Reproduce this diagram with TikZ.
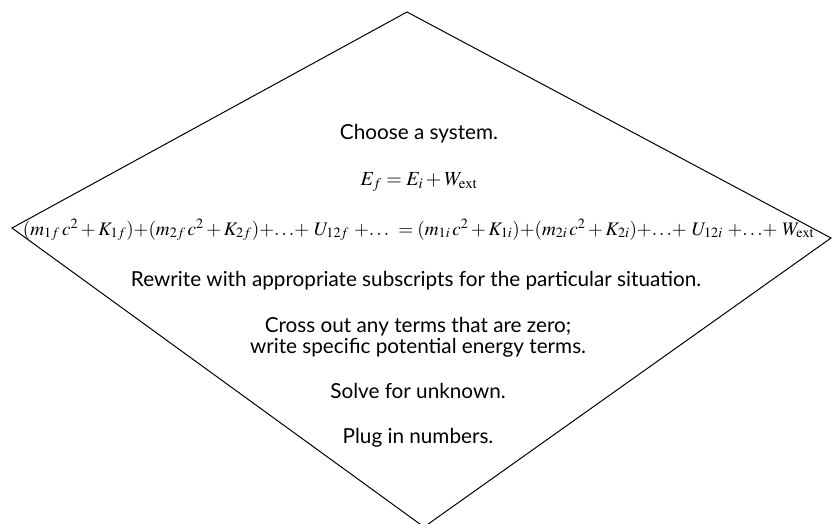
\documentclass[tikz,border=0pt]{standalone}
\usepackage{graphicx}
\usepackage{mathptmx}
\usepackage[no-math]{fontspec}
\setmainfont{Lato}
\usetikzlibrary{positioning}
\tikzset{
	steptext/.style={font=\fontsize{20.7}{25}\selectfont, inner sep=0pt, anchor=base}
}
\tikzset{
	mathtext/.style={font=\fontsize{20}{24}\selectfont, inner sep=0pt, anchor=base}
}
\tikzset{
	diamondline/.style={line width=1pt, line join=miter}
}

\begin{document}
\begin{tikzpicture}[x=1pt, y=-1pt]

	\useasboundingbox (0,0) rectangle (832,523);

	\coordinate (dT) at (407,12);
	\coordinate (dR) at (831,238);
	\coordinate (dB) at (424,527);
	\coordinate (dL) at (12,228);

	\draw[diamondline] (dT) -- (dR) -- (dB) -- (dL) -- cycle;

	\node[steptext] (choose) at (419,139) {Choose a system.};
	\node[mathtext] (energy) at (419,185) {$E_f = E_i + W_{\mathrm{ext}}$};
	\node[mathtext] (expand) at (418.5,235) {\resizebox{791pt}{!}{$(m_{1f}\,c^2 + K_{1f}){+}(m_{2f}\,c^2 + K_{2f}){+}{\ldots}{+}\ U_{12f}\ {+}{\ldots}\ = (m_{1i}\,c^2 + K_{1i}){+}(m_{2i}\,c^2 + K_{2i}){+}{\ldots}{+}\ U_{12i}\ {+}{\ldots}{+}\ W_{\mathrm{ext}}$}};
	\node[steptext] (rewrite) at (416,286) {Rewrite with appropriate subscripts for the particular situation.};

	\node[steptext] (cross) at (418,332) {Cross out any terms that are zero;};
	\node[steptext, below=2pt of cross, anchor=north] (specific) {write specific potential energy terms.};

	\node[steptext] (solve) at (418,398) {Solve for unknown.};
	\node[steptext] (plug) at (418,443) {Plug in numbers.};

\end{tikzpicture}
\end{document}
